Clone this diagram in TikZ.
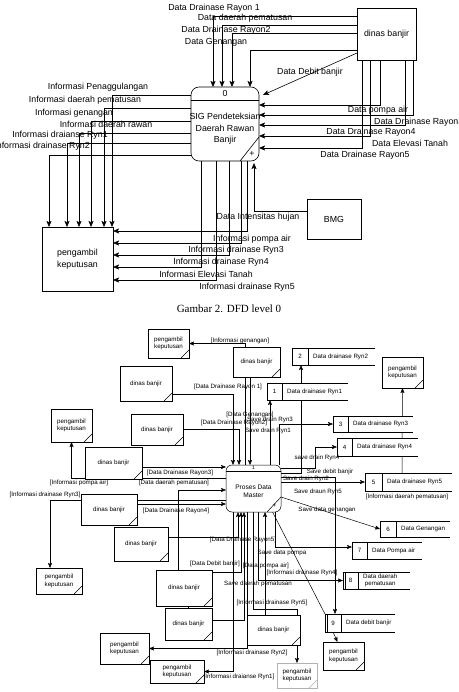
\documentclass[tikz,border=0pt]{standalone}
\usepackage{fontspec}
\setmainfont{Liberation Sans}
\newfontfamily\capfont{Liberation Serif}
\usetikzlibrary{arrows.meta}
\pgfdeclarelayer{bg}
\pgfsetlayers{bg,main}
\newcommand{\lvzero}{\fontsize{8.8}{11.5}\selectfont}
\newcommand{\lvone}{\fontsize{6.2}{7.5}\selectfont}
\tikzset{
 lbl0/.style={font=\lvzero, inner sep=0pt},
 lbl1/.style={font=\lvone, inner sep=0pt},
 box0/.style={draw, fill=white, line width=0.6pt, align=center, font=\lvzero, inner sep=0pt, outer sep=0pt},
 ent/.style={draw, fill=white, line width=0.5pt, align=center, font=\lvone, inner sep=0pt, outer sep=0pt,
   path picture={\draw[line width=0.4pt] ([xshift=-8pt]path picture bounding box.south east) -- ([yshift=8pt]path picture bounding box.south east);}},
 arr0/.style={line width=0.6pt, -{Stealth[length=6pt,width=5pt,inset=1.2pt]}},
 arr1/.style={line width=0.5pt, -{Stealth[length=5pt,width=4pt,inset=1pt]}},
 ln1/.style={line width=0.5pt},
}
\newcommand{\dstore}[8]{%
 \node[inner sep=0pt, outer sep=0pt, fill=white, minimum width={(#4-#2)*1pt}, minimum height={(#5-#3)*1pt}] (#1) at ({(#2+#4)/2},{(#3+#5)/2}) {};
 \draw[ln1] (#1.north east) -- (#1.north west) -- (#1.south west) -- (#1.south east);
 \draw[ln1] (#6,#3) -- (#6,#5);
 \node[lbl1] (#1n) at ({(#2+#6)/2},{(#3+#5)/2}) {#7};
 \node[lbl1, anchor=west, align=center] (#1t) at ({#6+5},{(#3+#5)/2}) {#8};
}
\begin{document}
\begin{tikzpicture}[x=1pt,y=-1pt]
\useasboundingbox (0,0) rectangle (458,692);
% ================= LEVEL 0 =================
\node[box0, minimum width=59pt, minimum height=52pt] (dinas) at (386.5,34) {dinas banjir};
\node[draw, fill=white, line width=0.6pt, rounded corners=8pt, minimum width=68pt, minimum height=74pt, inner sep=0pt, outer sep=0pt] (p0) at (225,124) {};
\draw[line width=0.6pt] ([yshift=-13pt]p0.north west) -- ([yshift=-13pt]p0.north east);
\node[lbl0] (p0id) at ([yshift=-6pt]p0.north) {0};
\node[lbl0, align=center] (p0txt) at ([yshift=-5pt]p0.center) {SIG Pendeteksian\\Daerah Rawan\\Banjir};
\draw[line width=0.6pt] ([yshift=24pt]p0.south east) -- ([xshift=-19pt]p0.south east);
\node[lbl0] (p0plus) at ([xshift=-7pt,yshift=7pt]p0.south east) {+};
\node[box0, minimum width=71pt, minimum height=64pt] (pk) at (77.5,259) {pengambil\\keputusan};
\node[box0, minimum width=54pt, minimum height=40pt] (bmg) at (334,219) {BMG};

\begin{pgfonlayer}{bg}
\draw[arr0] ([yshift=18pt]dinas.west) -| ([xshift=-12pt]p0.north);
\draw[arr0] ([yshift=9pt]dinas.west) -| ([xshift=-3pt]p0.north);
\draw[arr0] ([yshift=1pt]dinas.west) -| ([xshift=7pt]p0.north);
\draw[arr0] ([yshift=-16pt]dinas.west) -| ([xshift=25pt]p0.north);
\draw[arr0] ([yshift=-19pt]dinas.west) -- ([xshift=4pt,yshift=-8pt]p0.north east);
\draw[arr0] ([xshift=-6.5pt]dinas.south) |- ([yshift=19pt]p0.east);
\draw[arr0] ([xshift=26.5pt]dinas.south) |- ([yshift=9pt]p0.east);
\draw[arr0] ([xshift=18.5pt]dinas.south) |- ([yshift=-1pt]p0.east);
\draw[arr0] ([xshift=-16.5pt]dinas.south) |- ([yshift=-12pt]p0.east);
\draw[arr0] ([xshift=-24.5pt]dinas.south) |- ([yshift=-24pt]p0.east);
\draw[arr0] ([yshift=29pt]p0.west) -| ([xshift=34.5pt]pk.north);
\draw[arr0] ([yshift=16pt]p0.west) -| ([xshift=26.5pt]pk.north);
\draw[arr0] ([yshift=3pt]p0.west) -| ([xshift=13.5pt]pk.north);
\draw[arr0] ([yshift=-9pt]p0.west) -| ([xshift=1.5pt]pk.north);
\draw[arr0] ([yshift=-19pt]p0.west) -| ([xshift=-10.5pt]pk.north);
\draw[arr0] ([yshift=-31pt]p0.west) -| ([xshift=-28.5pt]pk.north);
\draw[arr0] ([xshift=22pt]p0.south) |- ([yshift=28pt]pk.east);
\draw[arr0] ([xshift=16pt]p0.south) |- ([yshift=16pt]pk.east);
\draw[arr0] ([xshift=4pt]p0.south) |- ([yshift=4pt]pk.east);
\draw[arr0] ([xshift=-24pt]p0.south) |- ([yshift=-8pt]pk.east);
\draw[arr0] ([xshift=-9pt]p0.south) |- ([yshift=-21pt]pk.east);
\draw[arr0] ([yshift=8pt]bmg.west) -| ([xshift=29pt,yshift=-2pt]p0.south);
\end{pgfonlayer}

\node[lbl0] (a1) at (214,8) {Data Drainase Rayon 1};
\node[lbl0] (a2) at (245,18) {Data daerah pematusan};
\node[lbl0] (a3) at (226,30) {Data Drainase Rayon2};
\node[lbl0] (a4) at (216,42) {Data Genangan};
\node[lbl0] (a5) at (310,72) {Data Debit banjir};
\node[lbl0] (a6) at (378,110) {Data pompa air};
\node[lbl0, anchor=west] (a7) at (374,122) {Data Drainase Rayon3};
\node[lbl0] (a8) at (371,132) {Data Drainase Rayon4};
\node[lbl0] (a9) at (410,143) {Data Elevasi Tanah};
\node[lbl0] (a10) at (365,155) {Data Drainase Rayon5};
\node[lbl0] (a11) at (98,87) {Informasi Penaggulangan};
\node[lbl0] (a12) at (85,100) {Informasi daerah pematusan};
\node[lbl0] (a13) at (74,113) {Informasi genangan};
\node[lbl0] (a14) at (106,124) {Informasi daerah rawan};
\node[lbl0] (a15) at (60,135) {Informasi draianse Ryn1};
\node[lbl0, anchor=east] (a16) at (90,146) {Informasi drainase Ryn2};
\node[lbl0] (a17) at (258,217) {Data Intensitas hujan};
\node[lbl0] (a18) at (252,239) {Informasi pompa air};
\node[lbl0] (a19) at (236,250) {Informasi drainase Ryn3};
\node[lbl0] (a20) at (221,262) {Informasi drainase Ryn4};
\node[lbl0] (a21) at (206,274) {Informasi Elevasi Tanah};
\node[lbl0] (a22) at (247,287) {Informasi drainase Ryn5};

\node[font=\capfont\fontsize{11}{13}\selectfont, inner sep=0pt] (cap) at (229,309) {Gambar 2. DFD level 0};

% ================= LEVEL 1 =================
\node[draw, fill=white, line width=0.5pt, rounded corners=6pt, minimum width=55pt, minimum height=47pt, inner sep=0pt, outer sep=0pt] (p1) at (253.5,488.5) {};
\draw[ln1] ([yshift=-6.5pt]p1.north west) -- ([yshift=-6.5pt]p1.north east);
\node[font=\fontsize{5}{6}\selectfont, inner sep=0pt] (p1id) at ([yshift=-3pt]p1.north) {1};
\node[lbl1, align=center, font=\fontsize{6.6}{8.5}\selectfont] (p1txt) at ([yshift=-3pt]p1.center) {Proses Data\\Master};
\draw[ln1] ([yshift=15pt]p1.south east) -- ([xshift=-14pt]p1.south east);
\node[lbl1] (p1plus) at ([xshift=-6.5pt,yshift=6pt]p1.south east) {+};

\node[ent, minimum width=41pt, minimum height=29pt] (pk1) at (168.5,343.5) {pengambil\\keputusan};
\node[ent, minimum width=47pt, minimum height=30pt] (db1) at (256.5,362) {dinas banjir};
\node[ent, minimum width=52pt, minimum height=35pt] (db2) at (146,383.5) {dinas banjir};
\node[ent, minimum width=41pt, minimum height=33pt] (pk2) at (71.5,425.5) {pengambil\\keputusan};
\node[ent, minimum width=52pt, minimum height=31pt] (db3) at (157,429.5) {dinas banjir};
\node[ent, minimum width=57pt, minimum height=32pt] (db4) at (113.5,463) {dinas banjir};
\node[ent, minimum width=56pt, minimum height=31pt] (db5) at (109,509.5) {dinas banjir};
\node[ent, minimum width=54pt, minimum height=34pt] (db6) at (141,544) {dinas banjir};
\node[ent, minimum width=46pt, minimum height=26pt] (pk3) at (59,581) {pengambil\\keputusan};
\node[ent, minimum width=56pt, minimum height=36pt] (db7) at (184,588) {dinas banjir};
\node[ent, minimum width=47pt, minimum height=32pt] (db8) at (188.5,624) {dinas banjir};
\node[ent, minimum width=49pt, minimum height=31pt] (pk4) at (124.5,648.5) {pengambil\\keputusan};
\node[ent, minimum width=54pt, minimum height=23pt] (pk5) at (177,671.5) {pengambil\\keputusan};
\node[ent, minimum width=53pt, minimum height=30pt] (db9) at (273.5,630) {dinas banjir};
\node[ent, draw=gray!60, minimum width=40pt, minimum height=25pt] (pk6) at (297,675.5) {pengambil\\keputusan};
\node[ent, minimum width=41pt, minimum height=31pt] (pk7) at (402.5,372.5) {pengambil\\keputusan};
\node[ent, minimum width=41pt, minimum height=28pt] (pk9) at (343.5,656) {pengambil\\keputusan};

\dstore{ds1}{267}{383}{348}{400}{282}{1}{Data drainase Ryn1}
\dstore{ds2}{292}{348}{375}{365}{308}{2}{Data drainase Ryn2}
\dstore{ds3}{333}{416}{413}{432}{348}{3}{Data drainase Ryn3}
\dstore{ds4}{337}{438}{418}{456}{352}{4}{Data drainase Ryn4}
\dstore{ds5}{365}{473}{452}{491}{382}{5}{Data drainase Ryn5}
\dstore{ds6}{380}{521}{450}{537}{396}{6}{Data Genangan}
\dstore{ds7}{352}{542}{422}{559}{367}{7}{Data Pompa air}
\dstore{ds8}{343}{572}{410}{589}{358}{8}{Data daerah\\pematusan}
\dstore{ds9}{325}{614}{395}{632}{341}{9}{Data debit banjir}
\draw[ln1] ([xshift=2pt]ds8.north west) -- ([xshift=2pt]ds8.south west);
\draw[ln1] ([xshift=2pt]ds9.north west) -- ([xshift=2pt]ds9.south west);

\begin{pgfonlayer}{bg}
\draw[arr1] ([xshift=-8.5pt]p1.north) |- (pk1.east);
\draw[arr1] ([yshift=-10.5pt]db2.east) -| ([xshift=-20.5pt]p1.north);
\draw[arr1] (db3.east) -| ([xshift=-14.5pt]p1.north);
\draw[arr1] ([xshift=-6.5pt]db1.south) -- ([xshift=-3.5pt]p1.north);
\coordinate (c5) at ([yshift=-4pt]db4.east);
\draw[arr1] (c5) -- (c5 -| p1.west);
\coordinate (c6) at ([yshift=10.5pt]p1.west);
\draw[arr1] (c6) -| (pk2.south);
\coordinate (c7) at ([yshift=-1.5pt]p1.west);
\draw[arr1] ([xshift=-6pt]db7.north) |- (c7);
\coordinate (c8) at ([yshift=-11.5pt]p1.west);
\draw[arr1] (c8) -| ([xshift=-9pt]pk3.north);
\coordinate (c9) at ([yshift=5.5pt]db5.east);
\draw[arr1] (c9) -- (c9 -| p1.west);
\draw[arr1] ([yshift=7pt]db6.east) -| ([xshift=-15.5pt]p1.south);
\draw[arr1] ([yshift=-2pt]db7.north east) -| ([xshift=-12.5pt]p1.south);
\draw[arr1] ([yshift=4pt]db8.east) -| ([xshift=-9.5pt]p1.south);
\draw[arr1] ([xshift=-8.5pt]db9.north) -- ([xshift=11.5pt]p1.south);
\coordinate (c14a) at (pk6.north |- db9.north);
\coordinate (c14) at ([yshift=6pt]c14a);
\draw[arr1] (p1.south) |- (c14) -- (pk6.north);
\draw[arr1] ([xshift=-6.5pt]p1.south) |- (pk4.east);
\draw[arr1] ([xshift=-20.5pt]p1.south) |- (pk5.east);
\draw[arr1] ([xshift=4.5pt]p1.south) |- (ds8.west);
\coordinate (c18) at ([yshift=3.5pt]ds7.west);
\draw[arr1] ([xshift=21.5pt]p1.south) |- (c18);
\draw[ln1] ([xshift=18pt,yshift=2pt]p1.south) -- (ds9.north west);
\draw[arr1] ([yshift=-8.5pt]p1.east) -- (ds6.west);
\coordinate (c21) at (ds5.west -| p1.east);
\draw[arr1] (c21) -- (ds5.west);
\coordinate (c22) at ([yshift=11.5pt]p1.east);
\draw[arr1] (c22) -| ([xshift=-25pt]ds9.north);
\coordinate (c23) at ([yshift=15.5pt]p1.east);
\draw[arr1] (c23) -| ([xshift=-32.5pt]ds2.south);
\coordinate (c24) at ([yshift=20.5pt]p1.east);
\coordinate (c24b) at ([xshift=-22pt]ds4.west);
\draw[arr1] (c24) -| (c24b) -- (ds4.west);
\draw[arr1] ([xshift=25.5pt]p1.north) |- (ds3.west);
\draw[arr1] ([xshift=16.5pt]p1.north) -- ([xshift=3pt]ds1.south west);
\draw[arr1] ([xshift=-6.5pt]ds5.north) -- (pk7.south);
\draw[arr1] ([xshift=-27pt]ds9.south) -- ([xshift=-6pt]pk9.north);
\draw[ln1] (db8.north) -- (db8.north |- db7.south);
\end{pgfonlayer}

\node[lbl1] (b1) at (240,341) {[Informasi genangan]};
\node[lbl1] (b2) at (228,387) {[Data Drainase Rayon 1]};
\node[lbl1] (b3) at (250,415) {[Data Genangan]};
\node[lbl1] (b4) at (234,423) {[Data Drainase Rayon2]};
\node[lbl1] (b5) at (270,420) {Save drain Ryn3};
\node[lbl1] (b6) at (268,431) {Save drain Ryn1};
\node[lbl1] (b7) at (317,458) {save drain Ryn4};
\node[lbl1] (b8) at (330,472) {Save debit banjir};
\node[lbl1] (b9) at (306,479) {Save drain Ryn2};
\node[lbl1] (b10) at (318,492) {Save draun Ryn5};
\node[lbl1] (b11) at (407,497) {[Informasi daerah pematusan]};
\node[lbl1] (b12) at (327,510) {Save data genangan};
\node[lbl1] (b13) at (180,473) {[Data Drainase Rayon3]};
\node[lbl1] (b14) at (174,483) {[Data daerah pematusan]};
\node[lbl1] (b15) at (79,483) {[Informasi pompa air]};
\node[lbl1] (b16) at (45,495) {[Informasi drainase Ryn3]};
\node[lbl1] (b17) at (176,511) {[Data Drainase Rayon4]};
\node[lbl1] (b18) at (243,540) {[Data Drainase Rayon5]};
\node[lbl1] (b19) at (282,553) {Save data pompa};
\node[lbl1] (b20) at (215,564) {[Data Debit banjir]};
\node[lbl1] (b21) at (266,566) {[Data pompa air]};
\node[lbl1] (b22) at (302,573) {[Informasi drainase Ryn4]};
\node[lbl1] (b23) at (258,584) {Save daerah pematusan};
\node[lbl1] (b24) at (272,603) {[Informasi drainase Ryn5]};
\node[lbl1] (b25) at (252,653) {[Informasi drainase Ryn2]};
\node[lbl1] (b26) at (239,677) {[Informasi draianse Ryn1]};
\end{tikzpicture}
\end{document}
